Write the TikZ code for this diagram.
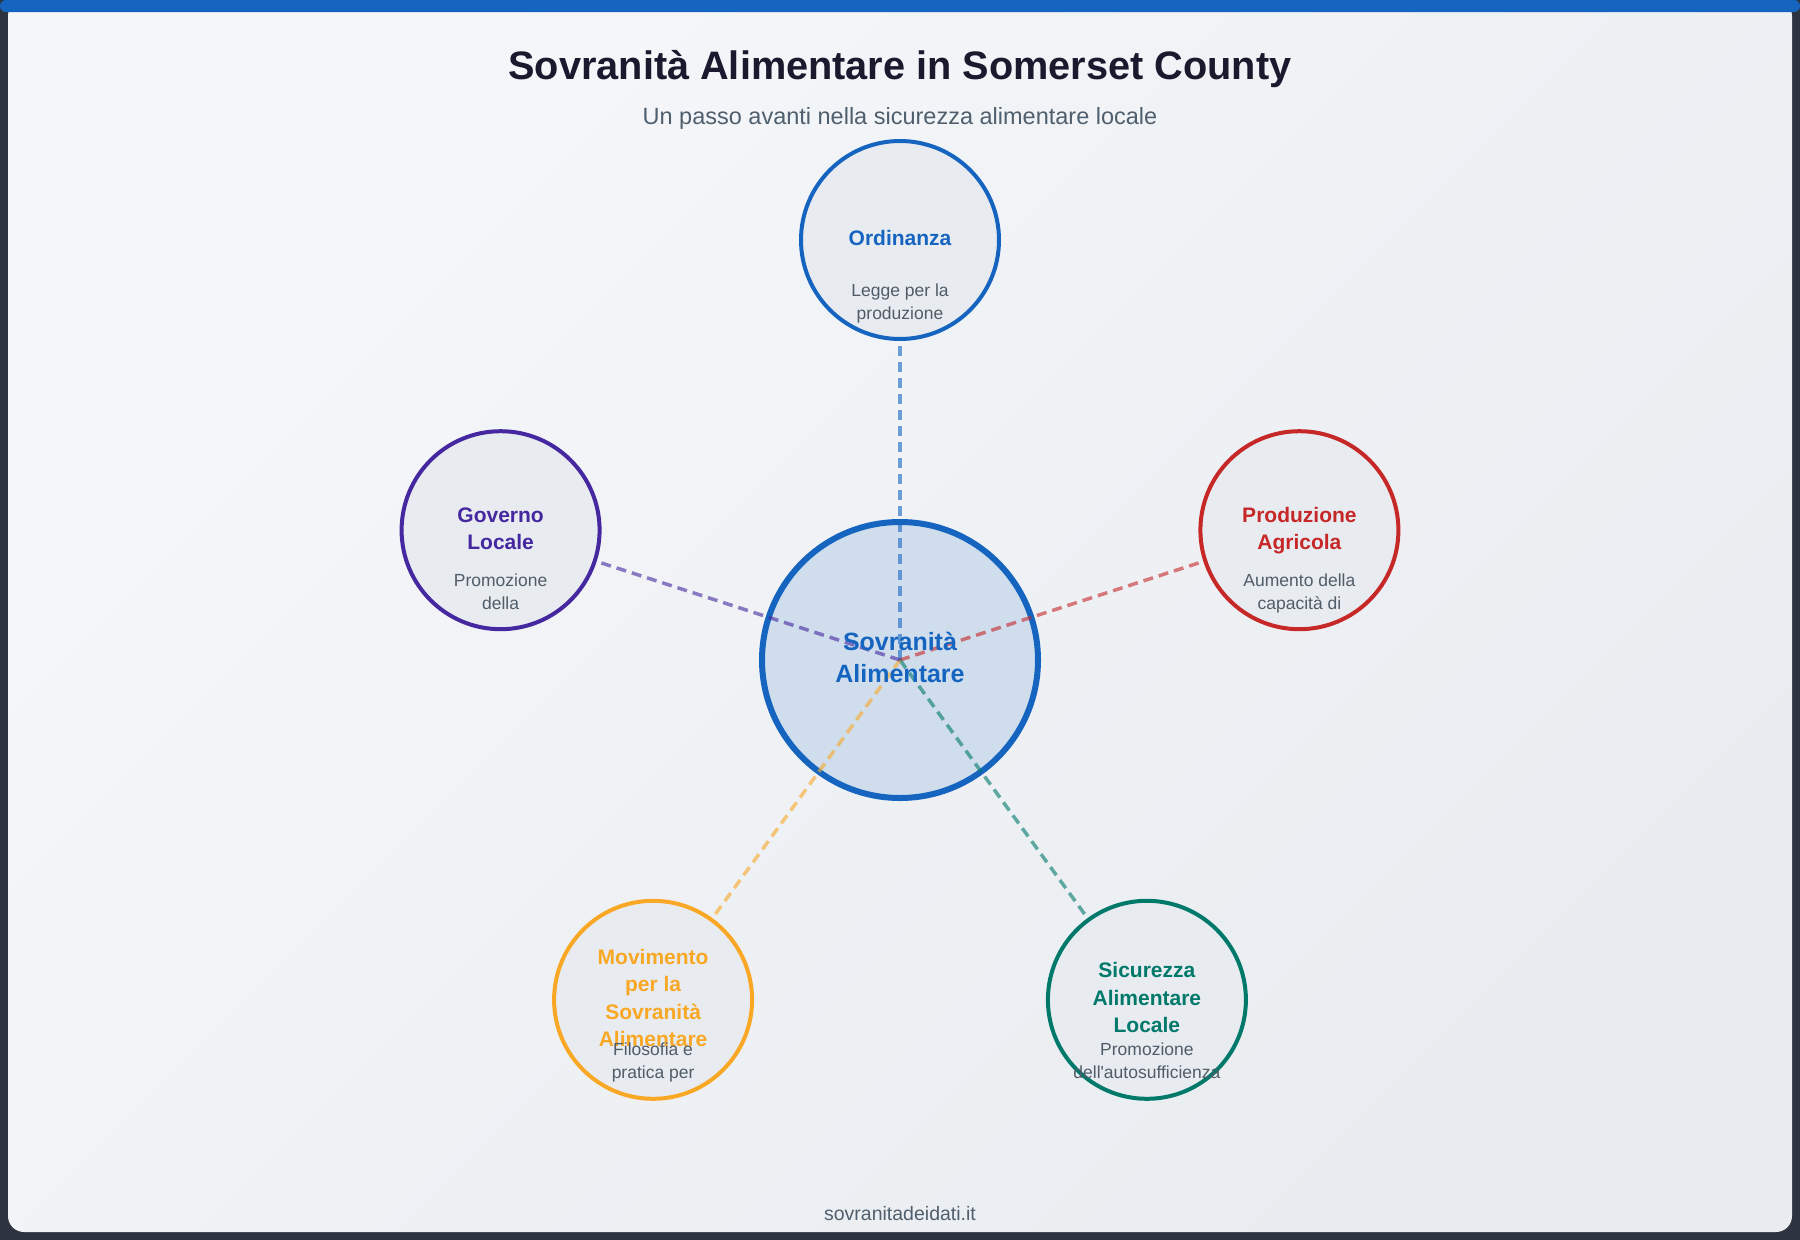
\documentclass[tikz,border=0pt]{standalone}
\usepackage{fontspec}
\setmainfont{Liberation Sans}[Ligatures=TeXOff]
\definecolor{cblue}{HTML}{1565C0}
\definecolor{cpurple}{HTML}{4527A0}
\definecolor{cred}{HTML}{C62828}
\definecolor{camber}{HTML}{F9A825}
\definecolor{cteal}{HTML}{00796B}
\definecolor{titlec}{HTML}{1A1A2E}
\definecolor{subc}{HTML}{4F5F6D}
\definecolor{descc}{HTML}{505D68}
\definecolor{darkbg}{HTML}{2D3440}
\definecolor{bgA}{HTML}{F5F7FA}
\definecolor{bgB}{HTML}{E9ECF0}
\definecolor{hubfill}{HTML}{CFDDED}
\definecolor{satfill}{HTML}{E8EBF0}
\pgfdeclarelayer{back}
\pgfdeclarelayer{mid}
\pgfsetlayers{back,mid,main}
\begin{document}
\begin{tikzpicture}[x=1pt,y=-1pt,
  hub/.style={circle, draw=cblue, line width=6pt, fill=hubfill, minimum size=276pt, inner sep=0pt},
  sat/.style={circle, line width=4pt, fill=satfill, minimum size=198pt, inner sep=0pt},
  link/.style={line width=3.5pt, dash pattern=on 10pt off 6pt, draw opacity=0.6},
  ttl/.style={anchor=base, inner sep=0pt, font=\fontsize{21}{25}\bfseries\selectfont},
  dsc/.style={anchor=base, inner sep=0pt, text=descc, font=\fontsize{17.5}{21}\selectfont},
  hubt/.style={anchor=base, inner sep=0pt, text=cblue, font=\fontsize{25}{30}\bfseries\selectfont}]
\useasboundingbox (0,0) rectangle (1800,1240);
\begin{pgfonlayer}{back}
  \fill[darkbg] (0,0) rectangle (1800,1240);
  \shade[top color=bgA, bottom color=bgB, shading angle=45, rounded corners=16pt] (8,0) rectangle (1792,1232);
  \fill[cblue, rounded corners=6pt] (0,0) rectangle (1800,12);
  \node[hub] (hub) at (900,660) {};
\end{pgfonlayer}

\node[anchor=base, inner sep=0pt, text=titlec, font=\fontsize{39.7}{46}\bfseries\selectfont] (title) at (900,79) {Sovranità Alimentare in Somerset County};
\node[anchor=base, inner sep=0pt, text=subc, font=\fontsize{23.5}{28}\selectfont] (subtitle) at (900,124) {Un passo avanti nella sicurezza alimentare locale};

\node[sat, draw=cblue] (ord) at (900,240) {};
\node[sat, draw=cred] (prod) at (1299.4,530.2) {};
\node[sat, draw=cteal] (sic) at (1146.9,999.8) {};
\node[sat, draw=camber] (mov) at (653.1,999.8) {};
\node[sat, draw=cpurple] (gov) at (500.6,530.2) {};

\begin{pgfonlayer}{mid}
  \draw[link, draw=cblue] (hub.center) -- (ord.center);
  \draw[link, draw=cred] (hub.center) -- (prod.center);
  \draw[link, draw=cteal] (hub.center) -- (sic.center);
  \draw[link, draw=camber] (hub.center) -- (mov.center);
  \draw[link, draw=cpurple] (hub.center) -- (gov.center);
\end{pgfonlayer}

\node[hubt] (hubt1) at (900,650) {Sovranità};
\node[hubt] (hubt2) at (900,682) {Alimentare};

\node[ttl, text=cblue] (ordt1) at (900,245.5) {Ordinanza};
\node[dsc] (ordd1) at (900,296) {Legge per la};
\node[dsc] (ordd2) at (900,319) {produzione};

\node[ttl, text=cpurple] (govt1) at (500.6,522) {Governo};
\node[ttl, text=cpurple] (govt2) at (500.6,549.5) {Locale};
\node[dsc] (govd1) at (500.6,586) {Promozione};
\node[dsc] (govd2) at (500.6,609) {della};

\node[ttl, text=cred] (prodt1) at (1299.4,522) {Produzione};
\node[ttl, text=cred] (prodt2) at (1299.4,549.5) {Agricola};
\node[dsc] (prodd1) at (1299.4,586) {Aumento della};
\node[dsc] (prodd2) at (1299.4,609) {capacità di};

\node[ttl, text=cteal] (sict1) at (1146.9,977.8) {Sicurezza};
\node[ttl, text=cteal] (sict2) at (1146.9,1005.3) {Alimentare};
\node[ttl, text=cteal] (sict3) at (1146.9,1032.8) {Locale};
\node[dsc] (sicd1) at (1146.9,1055.8) {Promozione};
\node[dsc] (sicd2) at (1146.9,1078.8) {dell'autosufficienza};

\node[ttl, text=camber] (movt1) at (653.1,964) {Movimento};
\node[ttl, text=camber] (movt2) at (653.1,991.5) {per la};
\node[ttl, text=camber] (movt3) at (653.1,1019) {Sovranità};
\node[ttl, text=camber] (movt4) at (653.1,1046.5) {Alimentare};
\node[dsc] (movd1) at (653.1,1055.8) {Filosofia e};
\node[dsc] (movd2) at (653.1,1078.8) {pratica per};

\node[anchor=base, inner sep=0pt, text=subc, font=\fontsize{19.5}{23}\selectfont] (footer) at (900,1220) {sovranitadeidati.it};
\end{tikzpicture}
\end{document}
